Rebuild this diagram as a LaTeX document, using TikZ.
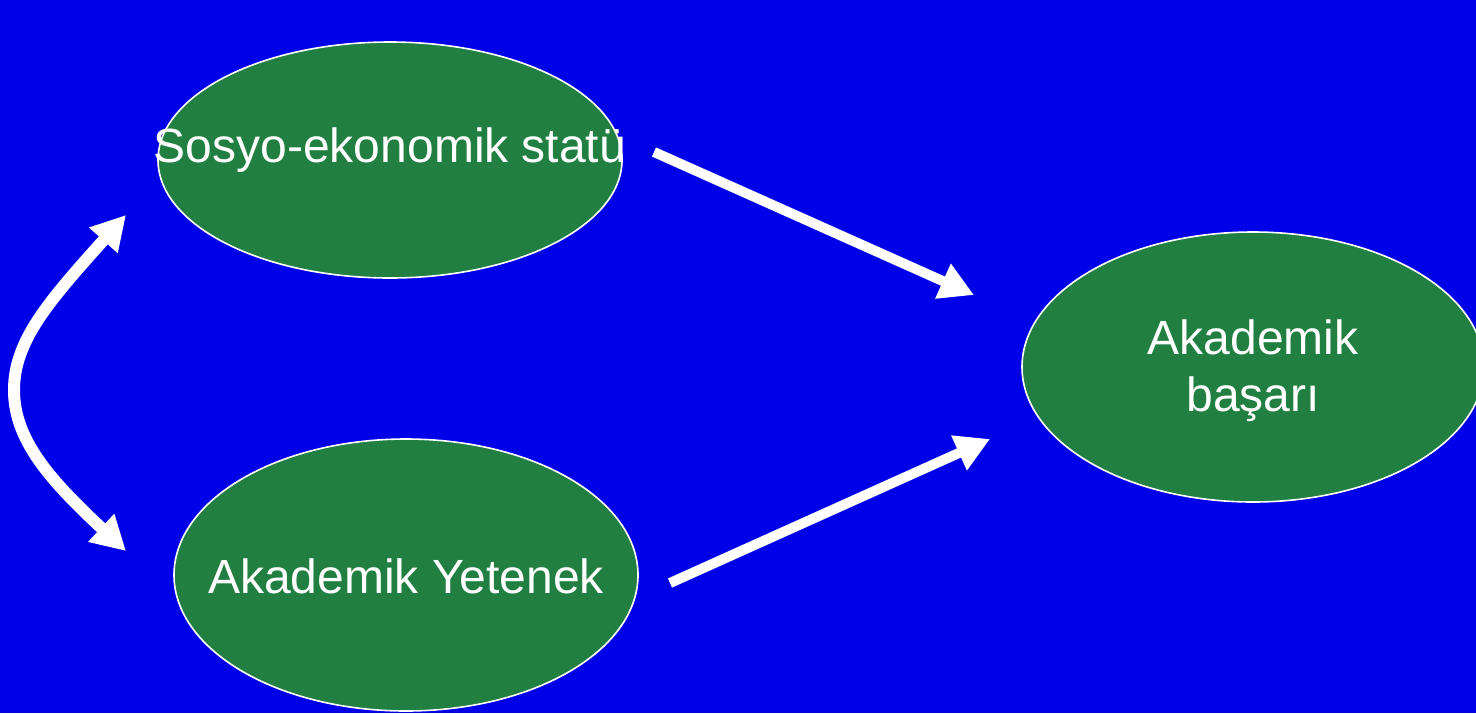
\documentclass[tikz,border=0pt]{standalone}
\usepackage{fontspec}
\setmainfont{Liberation Sans}
\usetikzlibrary{arrows.meta,shapes.geometric}
\definecolor{bgblue}{RGB}{0,0,232}
\definecolor{elgreen}{RGB}{33,128,65}
\begin{document}
\begin{tikzpicture}[x=0.5pt,y=-0.5pt,
  oval/.style={ellipse,draw=white,line width=0.8pt,fill=elgreen,inner sep=0pt},
  lbl/.style={text=white,font=\fontsize{24}{28.5}\selectfont,inner sep=0pt,align=center},
  bigarrow/.style={draw=white,line width=5pt,-{Triangle[length=17pt,width=18pt]}},
  curvearrow/.style={draw=white,line width=6pt,{Triangle[length=17pt,width=18pt]}-{Triangle[length=17pt,width=18pt]}}]
\fill[bgblue] (0,0) rectangle (1476,713);
\useasboundingbox (0,0) rectangle (1476,713);
% ellipses
\node[oval,minimum width=232pt,minimum height=118pt] (ses) at (390,160) {};
\node[oval,minimum width=232pt,minimum height=136pt] (ay) at (406,575) {};
\node[oval,minimum width=231pt,minimum height=135pt] (ab) at (1253,367) {};
% labels
\node[lbl,anchor=base] (sestxt) at (390,162) {Sosyo-ekonomik statü};
\node[lbl,anchor=base] (aytxt) at (406,593) {Akademik Yetenek};
\node[lbl] (abtxt) at (1253,371) {Akademik\\başarı};
% connector end points
\coordinate (s1) at (654,152);
\coordinate (t1) at (974,295);
\coordinate (s2) at (670,583);
\coordinate (t2) at (990,439);
\coordinate (c1) at (126,215);
\coordinate (cm) at (14,390);
\coordinate (c2) at (126,551);
\draw[bigarrow] (s1) -- (t1);
\draw[bigarrow] (s2) -- (t2);
\draw[curvearrow] (c1) .. controls (50,300) and (14,340) .. (cm)
  .. controls (14,440) and (50,480) .. (c2);
\end{tikzpicture}
\end{document}
